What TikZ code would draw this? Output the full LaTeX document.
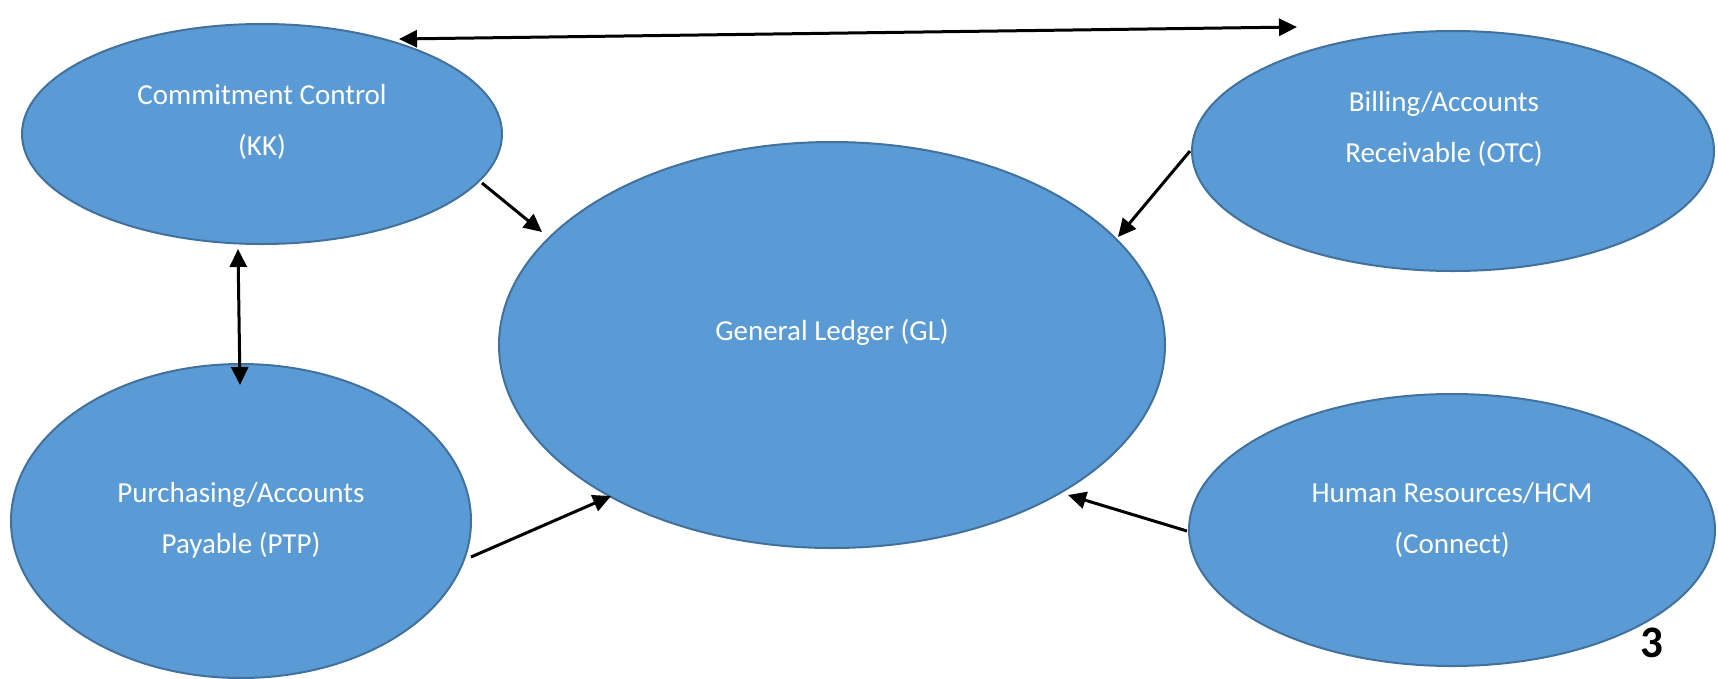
\documentclass[tikz,border=0pt]{standalone}
\usepackage{fontspec}
\setmainfont{Carlito}
\usetikzlibrary{shapes.geometric,arrows.meta,calc}
\definecolor{fillblue}{HTML}{5B9BD5}
\definecolor{edgeblue}{HTML}{41719C}
\begin{document}
\begin{tikzpicture}[x=1pt,y=-1pt,
  blob/.style={ellipse,draw=edgeblue,fill=fillblue,line width=2pt,inner sep=0pt},
  lbl/.style={text=white,font=\fontsize{29}{51}\selectfont,align=center,inner sep=0pt},
  conn/.style={line width=3pt,-{Triangle[length=18pt,width=17pt]}},
  bconn/.style={line width=3pt,{Triangle[length=18pt,width=17pt]}-{Triangle[length=18pt,width=17pt]}}]
\useasboundingbox (0,0) rectangle (1718,678);
\node[blob,minimum width=480pt,minimum height=220pt] (kk) at (262,134) {};
\node[blob,minimum width=522pt,minimum height=240pt] (otc) at (1453,151) {};
\node[blob,minimum width=666pt,minimum height=406pt] (gl) at (832,345) {};
\node[blob,minimum width=460pt,minimum height=314pt] (ptp) at (241,521) {};
\node[blob,minimum width=526pt,minimum height=272pt] (hr) at (1452,530) {};
\node[lbl] (kkt) at ($(kk)+(0,-12)$) {Commitment Control\\(KK)};
\node[lbl] (otct) at ($(otc)+(-9,-22)$) {Billing/Accounts\\Receivable (OTC)};
\node[lbl] (glt) at ($(gl)+(0,-13)$) {General Ledger (GL)};
\node[lbl] (ptpt) at ($(ptp)+(0,-1)$) {Purchasing/Accounts\\Payable (PTP)};
\node[lbl] (hrt) at ($(hr)+(0,-10)$) {Human Resources/HCM\\(Connect)};
\node[font=\bfseries\fontsize{45}{45}\selectfont,inner sep=0pt] (pg) at (1652,643) {3};
\draw[bconn] ($(kk)+(137,-95)$) -- ($(otc)+(-156,-124)$);
\draw[conn] ($(kk)+(220,49)$) -- ($(gl)+(-290,-113)$);
\draw[conn] ($(otc)+(-263,0)$) -- ($(gl)+(286,-108)$);
\draw[bconn] ($(kk)+(-24,115)$) -- ($(ptp)+(-1,-136)$);
\draw[conn] ($(ptp)+(230,36)$) -- ($(gl)+(-221,151)$);
\draw[conn] ($(hr)+(-265,1)$) -- ($(gl)+(236,150)$);
\end{tikzpicture}
\end{document}
